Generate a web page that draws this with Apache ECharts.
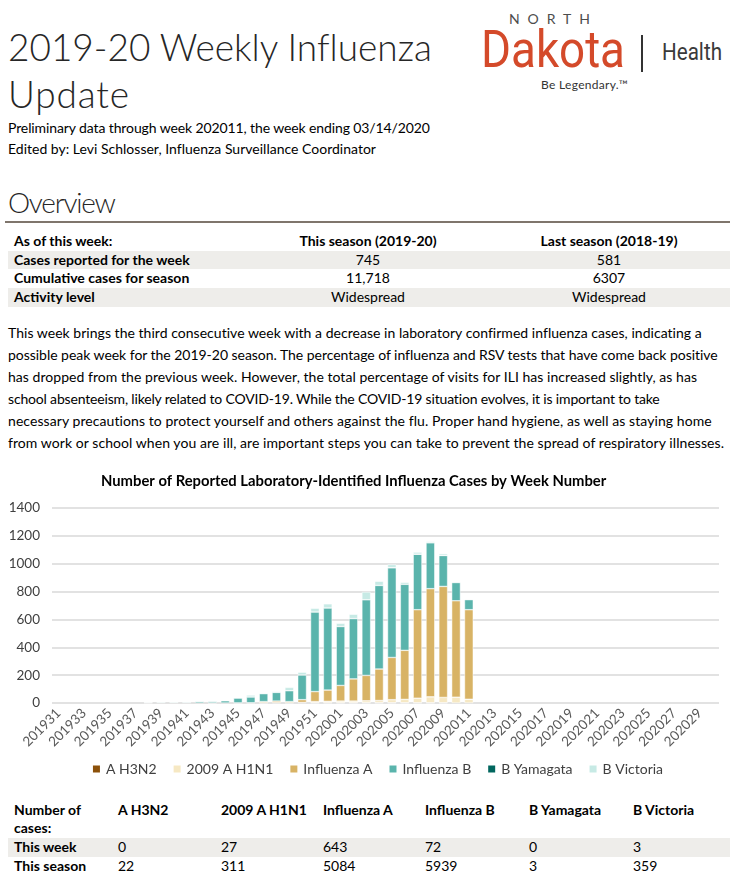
<!DOCTYPE html>
<html><head><meta charset="utf-8">
<script src="https://cdn.jsdelivr.net/npm/echarts@6/dist/echarts.min.js"></script>
<style>
html,body{margin:0;padding:0;background:#fff;}
body{width:754px;height:888px;position:relative;overflow:hidden;font-family:Lato,'Open Sans',sans-serif;color:#000;}
.a{position:absolute;white-space:nowrap;}
.t{font-weight:300;font-size:37px;line-height:40px;color:#262626;}
.s{font-size:14px;line-height:18px;}
.p{font-size:14px;line-height:18px;left:8px;}
.row{position:absolute;left:8px;width:722px;height:18.7px;}
.row span{position:absolute;top:0;line-height:18.7px;font-size:14px;white-space:nowrap;}
.g{background:#eeedea;}
.b{font-weight:bold;}
.c2{left:240px;width:240px;text-align:center;}
.c3{left:480px;width:242px;text-align:center;}
.bt{position:absolute;font-size:14px;line-height:18px;white-space:nowrap;}
</style></head>
<body>
<!-- Header -->
<div class="a t" style="left:8px;top:27px;" data-w="424">2019-20 Weekly Influenza</div>
<div class="a t" style="left:8px;top:74px;" data-w="121">Update</div>
<div class="a s" style="left:8px;top:119px;" data-w="422">Preliminary data through week 202011, the week ending 03/14/2020</div>
<div class="a s" style="left:8px;top:140px;" data-w="368">Edited by: Levi Schlosser, Influenza Surveillance Coordinator</div>

<!-- Logo -->
<div class="a" style="left:509px;top:10px;font-size:14px;line-height:18px;color:#4d4d4d;" data-w="81">NORTH</div>
<div class="a" style="left:481px;top:22px;font-family:Roboto,'Liberation Sans',sans-serif;font-size:52px;line-height:56px;color:#d44a2a;transform-origin:0 0;" data-sx="144">Dakota</div>
<div class="a" style="left:641px;top:35px;width:1.5px;height:37px;background:#333;"></div>
<div class="a" style="left:662px;top:40px;font-family:Roboto,'Liberation Sans',sans-serif;font-size:23px;line-height:26px;color:#3a3a3a;transform-origin:0 0;" data-sx="60">Health</div>
<div class="a" style="left:541px;top:77px;font-size:12px;line-height:16px;color:#333;" data-w="87">Be Legendary.™</div>

<!-- Overview -->
<div class="a" style="left:8px;top:186px;font-weight:300;font-size:28px;line-height:32px;color:#262626;" data-w="108">Overview</div>
<div class="a" style="left:5px;top:221px;width:725px;height:1.5px;background:#7f756c;"></div>

<div class="row" style="top:232px;"><span class="b" style="left:6px;">As of this week:</span><span class="b c2">This season (2019-20)</span><span class="b c3">Last season (2018-19)</span></div>
<div class="row g" style="top:250.7px;"><span class="b" style="left:6px;">Cases reported for the week</span><span class="c2">745</span><span class="c3">581</span></div>
<div class="row" style="top:269.4px;"><span class="b" style="left:6px;">Cumulative cases for season</span><span class="c2">11,718</span><span class="c3">6307</span></div>
<div class="row g" style="top:288.1px;"><span class="b" style="left:6px;">Activity level</span><span class="c2">Widespread</span><span class="c3">Widespread</span></div>

<!-- Paragraph -->
<div class="a p" style="top:324px;" data-w="694">This week brings the third consecutive week with a decrease in laboratory confirmed influenza cases, indicating a</div>
<div class="a p" style="top:346px;" data-w="710">possible peak week for the 2019-20 season. The percentage of influenza and RSV tests that have come back positive</div>
<div class="a p" style="top:368px;" data-w="689">has dropped from the previous week. However, the total percentage of visits for ILI has increased slightly, as has</div>
<div class="a p" style="top:390px;" data-w="652">school absenteeism, likely related to COVID-19. While the COVID-19 situation evolves, it is important to take</div>
<div class="a p" style="top:412px;" data-w="704">necessary precautions to protect yourself and others against the flu. Proper hand hygiene, as well as staying home</div>
<div class="a p" style="top:434px;" data-w="716">from work or school when you are ill, are important steps you can take to prevent the spread of respiratory illnesses.</div>

<!-- Chart -->
<div id="chart" style="position:absolute;left:0;top:460px;width:754px;height:330px;"></div>

<!-- Bottom table -->
<div class="a g" style="left:8px;top:838px;width:722px;height:19px;"></div>
<div class="bt b" style="left:14px;top:801px;">Number of</div>
<div class="bt b" style="left:14px;top:819px;">cases:</div>
<div class="bt b" style="left:118px;top:801px;">A H3N2</div>
<div class="bt b" style="left:221px;top:801px;">2009 A H1N1</div>
<div class="bt b" style="left:323px;top:801px;">Influenza A</div>
<div class="bt b" style="left:425px;top:801px;">Influenza B</div>
<div class="bt b" style="left:529px;top:801px;">B Yamagata</div>
<div class="bt b" style="left:633px;top:801px;">B Victoria</div>
<div class="bt b" style="left:14px;top:838px;">This week</div>
<div class="bt" style="left:118px;top:838px;">0</div>
<div class="bt" style="left:221px;top:838px;">27</div>
<div class="bt" style="left:323px;top:838px;">643</div>
<div class="bt" style="left:425px;top:838px;">72</div>
<div class="bt" style="left:529px;top:838px;">0</div>
<div class="bt" style="left:633px;top:838px;">3</div>
<div class="bt b" style="left:14px;top:857px;">This season</div>
<div class="bt" style="left:118px;top:857px;">22</div>
<div class="bt" style="left:221px;top:857px;">311</div>
<div class="bt" style="left:323px;top:857px;">5084</div>
<div class="bt" style="left:425px;top:857px;">5939</div>
<div class="bt" style="left:529px;top:857px;">3</div>
<div class="bt" style="left:633px;top:857px;">359</div>

<script>
// ---- Data ----
const weeks = ['201931','201932','201933','201934','201935','201936','201937','201938','201939','201940',
  '201941','201942','201943','201944','201945','201946','201947','201948','201949','201950','201951','201952',
  '202001','202002','202003','202004','202005','202006','202007','202008','202009','202010',
  '202011','202012','202013','202014','202015','202016','202017','202018','202019','202020',
  '202021','202022','202023','202024','202025','202026','202027','202028','202029','202030'];
const seriesNames = ['A H3N2','2009 A H1N1','Influenza A','Influenza B','B Yamagata','B Victoria'];
const aH3N2   = [0,0,0,0,0,0,0,0,0,0,0,0,0,0,0,0,0,0,0,0,2,2,2,2,2,2,2,2,2,2,2,0,0];
const aH1N1   = [0,0,0,0,0,0,0,0,0,0,0,0,0,0,0,0,2,3,2,4,8,10,12,12,14,16,22,24,33,42,38,42,27];
const fluA    = [0,0,0,0,0,0,0,2,0,0,0,0,1,0,1,2,8,11,8,20,72,81,112,159,182,226,303,352,635,777,797,692,643];
const fluB    = [0,0,0,0,0,0,0,4,6,6,6,11,11,16,35,41,57,62,78,177,571,589,423,433,543,600,644,474,398,329,222,131,72];
const bYamagata = [0,0,0,0,0,0,0,0,0,0,0,0,0,0,0,0,0,0,0,0,0,0,0,0,0,0,1,0,1,0,1,0,0];
const bVictoria = [0,0,0,0,0,0,0,0,1,1,2,3,2,3,2,14,5,6,24,20,27,30,23,31,56,30,22,14,14,9,12,5,3];
const yTicks = {min:0, max:1400, step:200};

const colors = ['#8c510a','#f6e8c3','#d8b365','#5ab4ac','#01665e','#c7eae5'];
const allData = [aH3N2, aH1N1, fluA, fluB, bYamagata, bVictoria];

const chart = echarts.init(document.getElementById('chart'), null, {renderer:'canvas'});
chart.setOption({
  animation:false,
  title:{text:'Number of Reported Laboratory-Identified Influenza Cases by Week Number',
    left:96, top:9,
    textStyle:{fontFamily:'Lato', fontSize:14.8, fontWeight:'bold', color:'#000'}},
  legend:{data:seriesNames, top:297, left:'center', icon:'rect', itemWidth:9, itemHeight:9, itemGap:15,
    textStyle:{fontFamily:'Lato', fontSize:14, color:'#404040'}},
  grid:{left:52, right:35, top:48, bottom:87},
  xAxis:{type:'category', data:weeks,
    axisLine:{show:false}, axisTick:{show:false},
    axisLabel:{interval:1, rotate:45, fontFamily:'Lato', fontSize:13.5, color:'#595959', margin:8}},
  yAxis:{type:'value', min:yTicks.min, max:yTicks.max, interval:yTicks.step,
    axisLine:{show:false}, axisTick:{show:false},
    axisLabel:{fontFamily:'Lato', fontSize:13.5, color:'#404040', margin:12, formatter:v=>String(v)},
    splitLine:{lineStyle:{color:'#d9d9d9', width:1.5}}},
  series: seriesNames.map((n,i)=>({
    name:n, type:'bar', stack:'cases', barWidth:'68%',
    itemStyle:{color:colors[i], borderColor:'#ffffff', borderWidth:0.5},
    data: allData[i].map(v=> v===0 ? null : v)
  }))
});

function fit(){
  document.querySelectorAll('[data-w]').forEach(el=>{
    el.style.letterSpacing='0px';
    const w = el.getBoundingClientRect().width;
    const n = el.textContent.length;
    const target = +el.dataset.w;
    el.style.letterSpacing = ((target - w)/Math.max(1,n-1)) + 'px';
  });
  document.querySelectorAll('[data-sx]').forEach(el=>{
    el.style.transform='none';
    const w = el.getBoundingClientRect().width;
    el.style.transform = 'scaleX(' + (+el.dataset.sx / w) + ')';
  });
}
fit();
if (document.fonts && document.fonts.ready) document.fonts.ready.then(fit);
</script>
</body></html>
